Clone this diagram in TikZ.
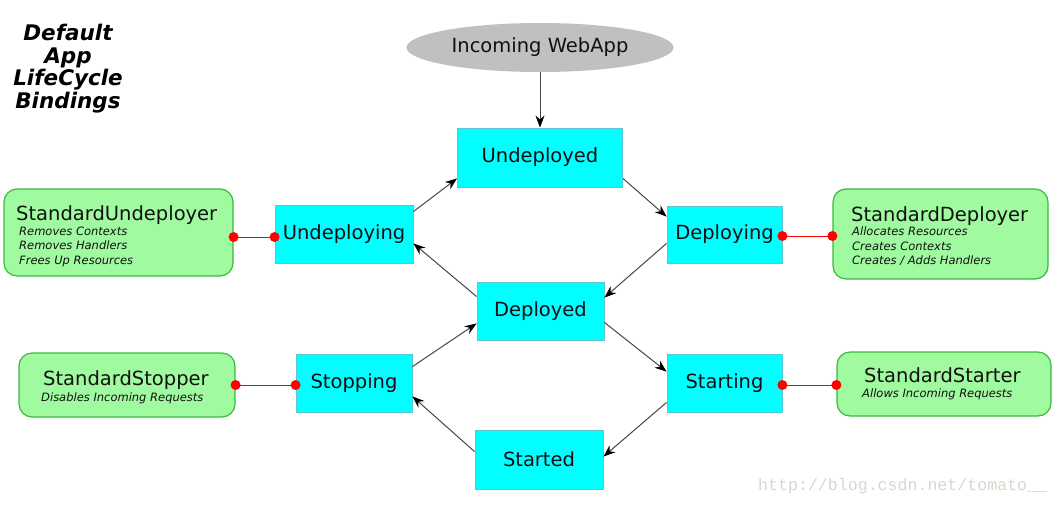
\documentclass[tikz,border=0pt]{standalone}
\usepackage{fontspec}
\setmainfont{DejaVu Sans}
\newfontfamily\wmfont{Liberation Mono}
\usetikzlibrary{shapes.geometric,calc,arrows.meta}
\definecolor{cyanfill}{RGB}{0,255,255}
\definecolor{cyanedge}{RGB}{90,200,210}
\definecolor{gfill}{RGB}{160,250,160}
\definecolor{gedge}{RGB}{60,185,60}
\definecolor{ellfill}{RGB}{192,192,192}
\definecolor{arr}{RGB}{70,70,70}
\definecolor{wm}{RGB}{215,215,205}
\definecolor{txt}{RGB}{17,17,17}
\begin{document}
\begin{tikzpicture}[x=1pt,y=-1pt,
  state/.style={draw=cyanedge, line width=0.8pt, fill=cyanfill, inner sep=0pt,
    font=\fontsize{19.5}{22}\selectfont, text=txt},
  gbox/.style={draw=gedge, line width=1.2pt, fill=gfill, rounded corners=13pt, inner sep=0pt},
  flow/.style={draw=arr, line width=1pt, -{Stealth[length=12pt,width=9pt,color=black]}},
  link/.style={draw=red, line width=0.8pt},
  gtitle/.style={anchor=base west, inner sep=0pt, font=\fontsize{19.5}{22}\selectfont, text=txt},
  gsub/.style={anchor=base west, inner sep=0pt, font=\fontsize{11.5}{14.5}\selectfont\itshape, text=txt},
]
\useasboundingbox (0,0) rectangle (1059,504);

% title
\node[inner sep=0pt, align=center, font=\fontsize{21.5}{22.7}\selectfont\bfseries\itshape] (title) at (68,68.5)
  {Default\\App\\LifeCycle\\Bindings};

% incoming
\node[ellipse, fill=ellfill, minimum width=267pt, minimum height=49pt, inner sep=0pt,
  font=\fontsize{19.5}{22}\selectfont, text=txt] (inc) at (540,47.5) {Incoming WebApp};

% states
\node[state, minimum width=165pt, minimum height=59pt] (ud) at (540,157.5) {Undeployed};
\node[state, minimum width=138pt, minimum height=58pt] (uing) at (344,234) {Undeploying};
\node[state, minimum width=115pt, minimum height=57pt] (ding) at (724.5,234.5) {Deploying};
\node[state, minimum width=127pt, minimum height=58pt] (dd) at (540.5,311) {Deployed};
\node[state, minimum width=116pt, minimum height=58pt] (stop) at (354,383) {Stopping};
\node[state, minimum width=115pt, minimum height=58pt] (start) at (724.5,383) {Starting};
\node[state, minimum width=128pt, minimum height=59pt] (sd) at (539,459.5) {Started};

% green boxes
\node[gbox, minimum width=229pt, minimum height=87pt] (su) at (118.5,232.5) {};
\node[gtitle] (su-t) at (16,220) {StandardUndeployer};
\node[gsub] (su-1) at (19,235) {Removes Contexts};
\node[gsub] (su-2) at (19,249.5) {Removes Handlers};
\node[gsub] (su-3) at (19,264) {Frees Up Resources};

\node[gbox, minimum width=215pt, minimum height=90pt] (sdp) at (940.5,234) {};
\node[gtitle] (sdp-t) at (851,221) {StandardDeployer};
\node[gsub] (sdp-1) at (852,235.5) {Allocates Resources};
\node[gsub] (sdp-2) at (852,250) {Creates Contexts};
\node[gsub] (sdp-3) at (852,264) {Creates / Adds Handlers};

\node[gbox, minimum width=216pt, minimum height=64pt] (ssp) at (127,385) {};
\node[gtitle] (ssp-t) at (43,385) {StandardStopper};
\node[gsub] (ssp-1) at (41,401.5) {Disables Incoming Requests};

\node[gbox, minimum width=214pt, minimum height=64pt] (sst) at (944,384) {};
\node[gtitle] (sst-t) at (864,382) {StandardStarter};
\node[gsub] (sst-1) at (862,397) {Allows Incoming Requests};

% flow arrows
\draw[flow] (inc.south) -- (ud.north);
\draw[flow] ($(uing.north east)+(0,7)$) -- ($(ud.south west)+(0,-9)$);
\draw[flow] ($(ud.south east)+(0,-9)$) -- ($(ding.north west)+(0,11)$);
\draw[flow] ($(ding.south west)+(0,-20)$) -- ($(dd.north east)+(0,16)$);
\draw[flow] ($(dd.north west)+(0,15)$) -- ($(uing.south east)+(0,-20)$);
\draw[flow] ($(stop.north east)+(0,13)$) -- ($(dd.south west)+(0,-17)$);
\draw[flow] ($(dd.south east)+(0,-18)$) -- ($(start.north west)+(0,18)$);
\draw[flow] ($(start.south west)+(0,-10)$) -- ($(sd.north east)+(0,27)$);
\draw[flow] ($(sd.north west)+(0,22)$) -- ($(stop.south east)+(0,-16)$);

% red links
\coordinate (a1) at ($(uing.west)+(0,3)$);
\coordinate (a2) at (a1 -| su.east);
\draw[link] (a2) -- (a1);
\fill[red] (a1) circle (5pt) (a2) circle (5pt);

\coordinate (b1) at ($(ding.east)+(0,1.5)$);
\coordinate (b2) at (b1 -| sdp.west);
\draw[link] (b1) -- (b2);
\fill[red] (b1) circle (5pt) (b2) circle (5pt);

\coordinate (c1) at ($(stop.west)+(0,2)$);
\coordinate (c2) at (c1 -| ssp.east);
\draw[link] (c2) -- (c1);
\fill[red] (c1) circle (5pt) (c2) circle (5pt);

\coordinate (d1) at ($(start.east)+(0,2)$);
\coordinate (d2) at (d1 -| sst.west);
\draw[link] (d1) -- (d2);
\fill[red] (d1) circle (5pt) (d2) circle (5pt);

% watermark
\node[anchor=base west, inner sep=0pt, font=\wmfont\fontsize{16.6}{18}\selectfont, text=wm] (wm) at (758,490)
  {http://blog.csdn.net/tomato\_\_};
\end{tikzpicture}
\end{document}
